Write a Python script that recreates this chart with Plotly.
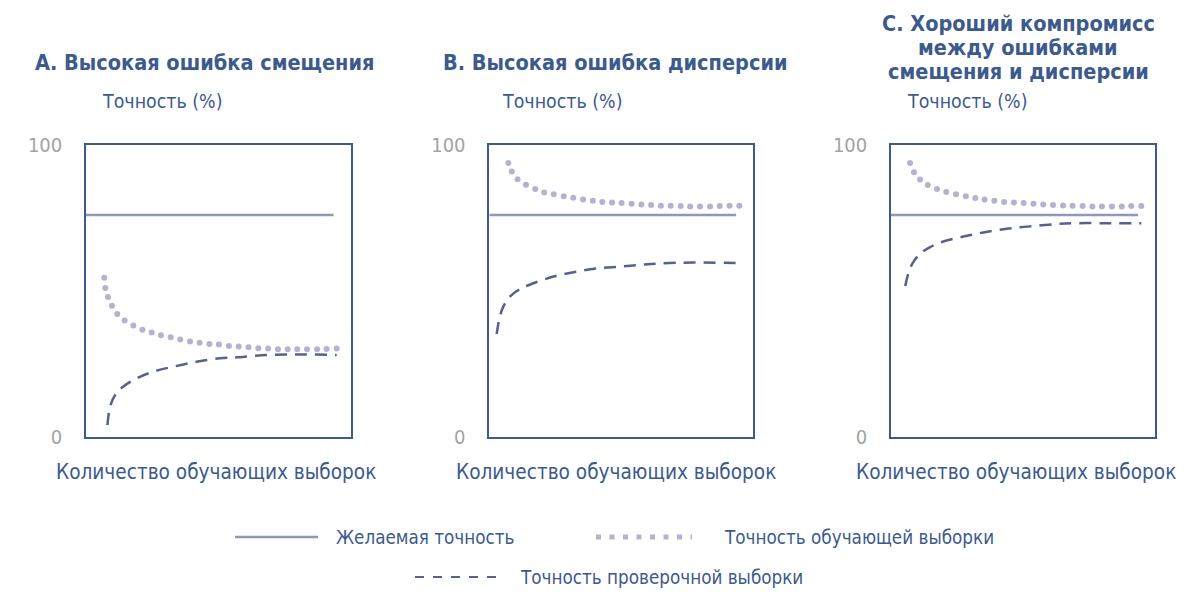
import plotly.graph_objects as go

# desired accuracy (same in all panels)
target_x = [0, 93.5]
target_y = [76, 76]

# A. high bias
a_train_x = [6.9, 7.3, 8.3, 9.8, 11.8, 14.6, 17.9, 21.3, 24.8, 28.3, 32.0, 35.6, 39.3, 42.9,
             46.6, 50.2, 54.0, 57.7, 61.4, 65.1, 68.8, 72.5, 76.2, 79.8, 83.5, 87.3, 90.9, 94.7]
a_train_y = [54.5, 51.0, 47.9, 44.9, 42.1, 39.8, 38.1, 36.7, 35.7, 34.8, 34.1, 33.3, 32.6, 32.2,
             31.8, 31.6, 31.1, 30.9, 30.7, 30.3, 30.2, 30.0, 30.0, 30.0, 30.0, 30.0, 30.1, 30.2]
a_valid_x = [8.1, 9.1, 11.0, 14.1, 19.1, 25.4, 33.0, 41.8, 50.6, 56.9, 63.2, 70.8, 82.1, 94.7]
a_valid_y = [4.0, 10.3, 14.3, 17.2, 20.0, 22.3, 24.0, 25.7, 26.9, 27.2, 27.7, 28.1, 28.2, 28.0]

# B. high variance
b_train_x = [7.2, 8.5, 10.7, 13.9, 17.4, 20.8, 24.4, 28.2, 31.8, 35.5, 39.2, 42.8, 46.5,
             50.1, 53.9, 57.6, 61.3, 65.0, 68.7, 72.5, 76.1, 79.8, 83.6, 87.3, 91.0, 94.7]
b_train_y = [93.8, 90.9, 88.3, 86.4, 84.9, 83.7, 83.1, 82.4, 81.9, 81.3, 80.9, 80.5, 80.3,
             80.1, 79.9, 79.6, 79.4, 79.2, 79.2, 79.1, 78.9, 78.9, 78.9, 79.1, 79.2, 79.2]
b_valid_x = [2.8, 3.7, 5.3, 7.8, 11.6, 16.7, 24.3, 33.1, 41.9, 49.5, 57.1, 64.7, 77.3, 94.7]
b_valid_y = [35.2, 40.0, 44.6, 48.0, 50.6, 52.6, 54.9, 56.6, 57.8, 58.3, 58.9, 59.4, 59.7, 59.5]

# C. good trade-off
c_train_x = [7.2, 8.7, 11.0, 13.9, 17.4, 20.9, 24.6, 28.3, 31.9, 35.4, 39.1, 42.8, 46.5,
             50.2, 53.9, 57.6, 61.3, 65.1, 68.7, 72.5, 76.2, 79.8, 83.6, 87.3, 90.9, 94.7]
c_train_y = [93.8, 90.7, 88.2, 86.3, 84.9, 83.9, 83.1, 82.4, 81.8, 81.3, 80.9, 80.5, 80.3,
             80.1, 79.9, 79.6, 79.4, 79.3, 79.2, 79.1, 78.9, 78.9, 78.9, 78.9, 79.1, 79.1]
c_valid_x = [5.4, 6.6, 8.2, 11.0, 14.8, 19.8, 27.4, 34.9, 43.8, 52.6, 62.7, 70.2, 82.9, 94.7]
c_valid_y = [51.7, 56.1, 59.5, 62.7, 65.0, 66.9, 68.6, 70.0, 71.3, 72.1, 72.9, 73.2, 73.2, 73.2]

panels = [
    (a_train_x, a_train_y, a_valid_x, a_valid_y),
    (b_train_x, b_train_y, b_valid_x, b_valid_y),
    (c_train_x, c_train_y, c_valid_x, c_valid_y),
]

# page has an 8px body margin, so the figure is a bit smaller than the window
OFF = 8
W, H = 1200 - 2 * OFF, 597 - 2 * OFF

def fx(px):
    return (px - OFF) / W

def fy(py):
    return 1 - (py - OFF) / H

BLUE = "#3c5a8c"
TARGET = "#8f98bb"
DOTS = "#b3b3cf"
DASH = "#58608f"
GREY = "#a3a3a3"
BOLD = "DejaVu Sans Condensed, sans-serif"
LIGHT = "DejaVu Sans Condensed, sans-serif"

x_doms = [(86, 350.7), (489.3, 753.3), (891, 1155.3)]
y_dom = [fy(436.7), fy(145)]

fig = go.Figure()
for i, (tx, ty, vx, vy) in enumerate(panels):
    n = "" if i == 0 else str(i + 1)
    xa, ya = "x" + n, "y" + n
    fig.add_trace(go.Scatter(x=target_x, y=target_y, xaxis=xa, yaxis=ya, mode="lines",
                             line=dict(color=TARGET, width=2.5), name="Желаемая точность"))
    fig.add_trace(go.Scatter(x=tx, y=ty, xaxis=xa, yaxis=ya, mode="markers",
                             marker=dict(color=DOTS, size=6), name="Точность обучающей выборки"))
    fig.add_trace(go.Scatter(x=vx, y=vy, xaxis=xa, yaxis=ya, mode="lines", line_shape="spline",
                             line=dict(color=DASH, width=2.5, dash="12px,8px"),
                             name="Точность проверочной выборки"))
    x0, x1 = x_doms[i]
    fig.layout["xaxis" + n] = dict(domain=[fx(x0), fx(x1)], range=[0, 100], showgrid=False,
                                   zeroline=False, showticklabels=False, showline=True,
                                   mirror=True, linecolor=BLUE, linewidth=1.5, anchor=ya,
                                   fixedrange=True, automargin=False)
    fig.layout["yaxis" + n] = dict(domain=y_dom, range=[0, 100], showgrid=False, zeroline=False,
                                   showline=True, mirror=True, linecolor=BLUE, linewidth=1.5,
                                   tickvals=[0, 100], ticktext=["0", "100"], ticks="",
                                   ticklabelstandoff=18, anchor=xa, fixedrange=True,
                                   automargin=False,
                                   tickfont=dict(family=LIGHT, size=20, color=GREY))

ann = []
def add_text(txt, px, py, size, family, color=BLUE, xanchor="center", weight="normal"):
    ann.append(dict(text=txt, x=fx(px), y=fy(py), xref="paper", yref="paper",
                    xanchor=xanchor, yanchor="middle", showarrow=False,
                    font=dict(family=family, size=size, color=color, weight=weight)))

add_text("А. Высокая ошибка смещения", 204, 62, 21.5, BOLD, weight="bold")
add_text("В. Высокая ошибка дисперсии", 615, 62, 21.5, BOLD, weight="bold")
add_text("С. Хороший компромисс", 1018, 23, 21.5, BOLD, weight="bold")
add_text("между ошибками", 1018, 48, 21.5, BOLD, weight="bold")
add_text("смещения и дисперсии", 1018, 72, 21.5, BOLD, weight="bold")

for px in [100, 500, 905]:
    add_text("Точность (%)", px, 101, 19.4, LIGHT, xanchor="left")
for px in [216, 616, 1016]:
    add_text("Количество обучающих выборок", px, 472, 20.6, LIGHT)

# legend
shapes = [
    dict(type="line", xref="paper", yref="paper", x0=fx(235), x1=fx(318),
         y0=fy(537), y1=fy(537), line=dict(color=TARGET, width=2.5)),
    dict(type="line", xref="paper", yref="paper", x0=fx(596), x1=fx(692),
         y0=fy(537), y1=fy(537), line=dict(color=DOTS, width=5, dash="5px,8.5px")),
    dict(type="line", xref="paper", yref="paper", x0=fx(415), x1=fx(500),
         y0=fy(577), y1=fy(577), line=dict(color=DASH, width=2, dash="9px,9px")),
]
add_text("Желаемая точность", 334, 537, 18.7, LIGHT, xanchor="left")
add_text("Точность обучающей выборки", 722, 537, 18.7, LIGHT, xanchor="left")
add_text("Точность проверочной выборки", 518, 577, 18.7, LIGHT, xanchor="left")

fig.update_layout(width=W, height=H, margin=dict(l=0, r=0, t=0, b=0, autoexpand=False),
                  paper_bgcolor="white", plot_bgcolor="white",
                  annotations=ann, shapes=shapes, showlegend=False)

fig.write_html("out.html")
